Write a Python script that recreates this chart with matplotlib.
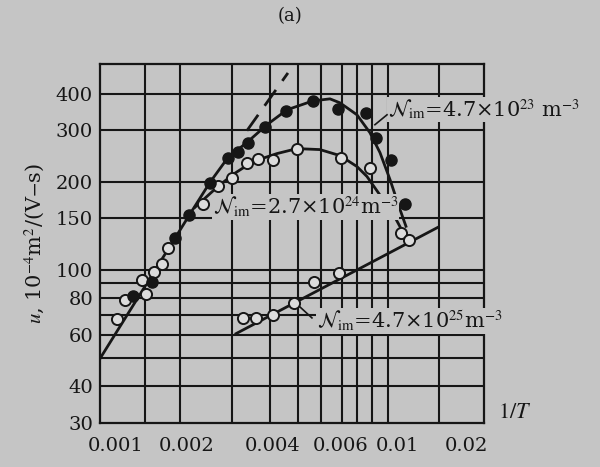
import matplotlib
matplotlib.use("Agg")
from matplotlib import pyplot as plt
from matplotlib.transforms import ScaledTranslation
import numpy as np

plt.rcParams['font.family'] = ['DejaVu Serif']
plt.rcParams['mathtext.fontset'] = 'stix'

paper = "#c5c5c5"
ink = "#161616"

# x is 1/T, u in 10^-4 m^2/(V-s)
filled_x = [0.00119, 0.00139, 0.00169, 0.00189, 0.00225, 0.00261, 0.00284, 0.00308,
            0.00355, 0.00422, 0.00529, 0.0065, 0.0082, 0.0089, 0.0101, 0.0113]
filled_u = [81.6, 91.0, 128.5, 154, 199, 242, 254, 272,
            309, 350, 379, 356, 345, 283, 237, 168]

open24_x = [0.00104, 0.00111, 0.00128, 0.00133, 0.00142, 0.00151, 0.00159, 0.00213,
            0.00241, 0.0027, 0.00306, 0.00335, 0.00379, 0.00463, 0.00667, 0.00847, 0.011]
open24_u = [68, 79, 92.5, 83, 98.4, 105, 119, 168,
            193, 207, 233, 240, 237, 260, 242, 224, 134]

open25_x = [0.00296, 0.0033, 0.00379, 0.00452, 0.00533, 0.00656, 0.0117]
open25_u = [68.6, 68.6, 70.3, 77.2, 91, 97.7, 126.5]

curve23_x = [0.000906, 0.001956, 0.002252, 0.002614, 0.003084, 0.003611, 0.004261, 0.005285,
             0.006085, 0.00661, 0.007608, 0.008472, 0.009206, 0.01, 0.010864, 0.011416]
curve23_u = [49.8, 161.2, 199.3, 242.3, 274.7, 313.8, 352.8, 378.6,
             384.6, 372.8, 339.3, 294.7, 252.0, 204.0, 161.2, 141.1]

curve24_x = [0.001989, 0.002385, 0.002725, 0.003215, 0.003922, 0.004629, 0.005601, 0.00661,
             0.007608, 0.008265, 0.009438, 0.010423, 0.011135]
curve24_u = [163.8, 191.6, 212.1, 234.8, 250.0, 260.0, 258.0, 246.1,
             225.8, 208.8, 174.4, 151.5, 134.7]

line25_x = [0.002794, 0.01489]
line25_u = [60.6, 140.0]

dash_x = [0.003059, 0.004296]
dash_u = [299.4, 471.6]

grid_x = [0.001315, 0.001757, 0.002702, 0.0037, 0.00467, 0.00565, 0.00672,
          0.0076, 0.0086, 0.00984, 0.0150]
grid_u = [40, 50, 60, 70, 80, 90, 100, 150, 200, 300, 400]

xticks = [0.001, 0.002, 0.004, 0.006, 0.01, 0.02]
xtick_labels = ["0.001", "0.002", "0.004", "0.006", "0.01", "0.02"]
xtick_nudge = [4, -9, -7, 12, 7, -7]   # the printed labels sit a bit off their grid spots
yticks = [30, 40, 60, 80, 100, 150, 200, 300, 400]
ytick_labels = ["30", "40", "60", "80", "100", "150", "200", "300", "400"]

fig = plt.figure(figsize=(6, 4.67), dpi=100, facecolor=paper)
ax = fig.add_axes([100 / 600, 1 - 423 / 467, 384 / 600, 359 / 467])
ax.set_facecolor(paper)
ax.set_xscale("log")
ax.set_yscale("log")
ax.set_xlim(0.000906, 0.02179)
ax.set_ylim(30.4, 506)

for gx in grid_x:
    ax.axvline(gx, color=ink, lw=1.5, zorder=1)
for gu in grid_u:
    ax.axhline(gu, color=ink, lw=1.5, zorder=1)

ax.plot(curve23_x, curve23_u, color=ink, lw=2.0, zorder=2)
ax.plot(curve24_x, curve24_u, color=ink, lw=2.0, zorder=2)
ax.plot(line25_x, line25_u, color=ink, lw=2.0, zorder=2)
ax.plot(dash_x, dash_u, color=ink, lw=2.0, ls=(0, (7, 4)), zorder=2)

ax.plot(open24_x, open24_u, "o", ms=8, mfc="#dcdcdc", mec=ink, mew=1.4, zorder=3)
ax.plot(open25_x, open25_u, "o", ms=8, mfc="#dcdcdc", mec=ink, mew=1.4, zorder=3)
ax.plot(filled_x, filled_u, "o", ms=8, mfc=ink, mec=ink, zorder=4)

ax.minorticks_off()
ax.set_xticks(xticks)
ax.set_xticklabels(xtick_labels)
ax.set_yticks(yticks)
ax.set_yticklabels(ytick_labels)
ax.tick_params(length=0, labelsize=14, colors=ink)
ax.tick_params(axis="x", pad=10)
ax.tick_params(axis="y", pad=5)
for lab, dx in zip(ax.get_xticklabels(), xtick_nudge):
    lab.set_transform(lab.get_transform() + ScaledTranslation(dx / 100, 0, fig.dpi_scale_trans))
for s in ax.spines.values():
    s.set_linewidth(1.6)
    s.set_color(ink)

box = dict(facecolor=paper, edgecolor="none", pad=0.5)
ax.text(0.00984, 334, r"$\mathcal{N}_{\rm im}$=4.7×10$^{23}$ m$^{-3}$",
        fontsize=15, color=ink, va="baseline", ha="left", zorder=5, bbox=box)
ax.text(0.002309, 155, r"$\mathcal{N}_{\rm im}$=2.7×10$^{24}$m$^{-3}$",
        fontsize=15, color=ink, va="baseline", ha="left", zorder=5, bbox=box)
ax.text(0.005463, 63, r"$\mathcal{N}_{\rm im}$=4.7×10$^{25}$m$^{-3}$",
        fontsize=15, color=ink, va="baseline", ha="left", zorder=5, bbox=box)

# leader strokes next to two of the labels
ax.plot([0.00883, 0.00976], [313.8, 339.3], color=ink, lw=1.2, zorder=5)
ax.plot([0.004745, 0.005241], [74.8, 68.6], color=ink, lw=1.2, zorder=5)

ax.set_ylabel(r"$u$, 10$^{-4}$m$^2$/(V$-$s)", fontsize=15, color=ink, labelpad=6)
fig.text(515 / 600, 1 - 412 / 467, r"$1/T$", fontsize=16, color=ink, ha="center", va="center")
fig.text(290 / 600, 1 - 16 / 467, "(a)", fontsize=13, color=ink, ha="center", va="center")

fig.savefig("out.png", dpi=100, facecolor=paper)
